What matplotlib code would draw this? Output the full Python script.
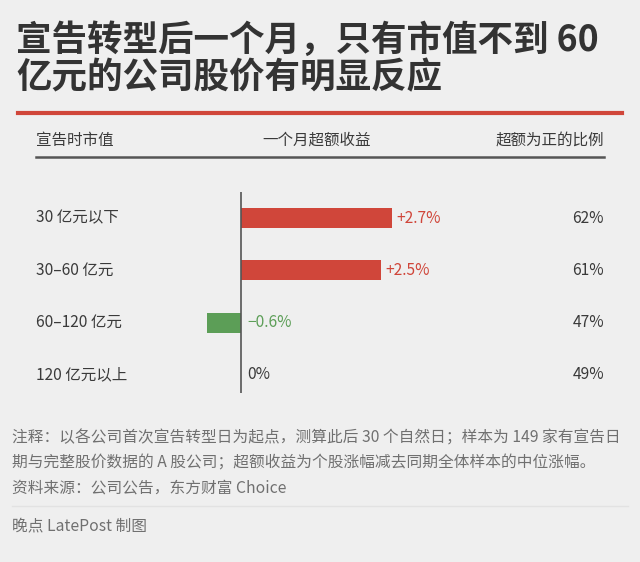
import matplotlib
matplotlib.use("Agg")
import matplotlib.pyplot as plt
from matplotlib.transforms import blended_transform_factory

plt.rcParams['font.family'] = ['Noto Sans CJK SC', 'DejaVu Sans']

# data
groups = ['30 亿元以下', '30–60 亿元', '60–120 亿元', '120 亿元以上']
excess = [2.7, 2.5, -0.6, 0.0]
excess_labels = ['+2.7%', '+2.5%', '−0.6%', '0%']
positive_share = ['62%', '61%', '47%', '49%']

title_lines = ['宣告转型后一个月，只有市值不到 60', '亿元的公司股价有明显反应']
headers = ['宣告时市值', '一个月超额收益', '超额为正的比例']
note_lines = ['注释：以各公司首次宣告转型日为起点，测算此后 30 个自然日；样本为 149 家有宣告日',
              '期与完整股价数据的 A 股公司；超额收益为个股涨幅减去同期全体样本的中位涨幅。']
source = '资料来源：公司公告，东方财富 Choice'
credit = '晚点 LatePost 制图'

bg = '#efefef'
red = '#d0463a'
green = '#5c9e57'
dark = '#3a3a3a'
grey = '#707070'

W, H = 640, 562
fig = plt.figure(figsize=(W / 100, H / 100), dpi=100, facecolor=bg)


def fx(px):
    return px / W


def fy(py):
    return 1 - py / H


# title
for py, line in zip([40, 78], title_lines):
    fig.text(fx(16), fy(py), line, ha='left', va='center', fontsize=25.6,
             fontweight='bold', color='#333333')
fig.add_artist(plt.Line2D([fx(18), fx(622)], [fy(113), fy(113)], color=red, lw=3))

# header
fs = 11.2
fig.text(fx(36), fy(140), headers[0], ha='left', va='center', fontsize=fs, color=dark)
fig.text(fx(317), fy(140), headers[1], ha='center', va='center', fontsize=fs, color=dark)
fig.text(fx(604), fy(140), headers[2], ha='right', va='center', fontsize=fs, color=dark)
fig.add_artist(plt.Line2D([fx(36), fx(604)], [fy(157), fy(157)], color='#555555', lw=1.8))

# bar axes
ax = fig.add_axes([fx(36), fy(393), fx(604) - fx(36), (393 - 192) / H])
ax.set_facecolor('none')
x0 = 241
scale = 56.0
ax.set_xlim((36 - x0) / scale, (604 - x0) / scale)
ax.set_ylim(3.346, -0.5)
ax.axis('off')

ypos = list(range(len(groups)))
colors = [red if v > 0 else green for v in excess]
ax.barh(ypos, excess, height=0.385, color=colors, zorder=2)
ax.axvline(0, color='#555555', lw=1.2, zorder=3)

tr = blended_transform_factory(ax.transAxes, ax.transData)
for y, g, v, lab, share, c in zip(ypos, groups, excess, excess_labels, positive_share, colors):
    ax.text(0, y, g, transform=tr, ha='left', va='center', fontsize=fs, color=dark)
    ax.text(1, y, share, transform=tr, ha='right', va='center', fontsize=fs, color=dark)
    if v > 0:
        ax.text(v + 0.08, y, lab, ha='left', va='center', fontsize=fs, color=red)
    elif v < 0:
        ax.text(0.12, y, lab, ha='left', va='center', fontsize=fs, color=green)
    else:
        ax.text(0.12, y, lab, ha='left', va='center', fontsize=fs, color=dark)

# footer
for py, line in zip([438, 463], note_lines):
    fig.text(fx(12), fy(py), line, ha='left', va='center', fontsize=11.3, color=grey)
fig.text(fx(12), fy(488), source, ha='left', va='center', fontsize=11.3, color=grey)
fig.add_artist(plt.Line2D([fx(12), fx(628)], [fy(506), fy(506)], color='#e2e2e2', lw=1))
fig.text(fx(12), fy(526), credit, ha='left', va='center', fontsize=11.3, color=grey)

fig.savefig('out.png', dpi=100, facecolor=bg)
